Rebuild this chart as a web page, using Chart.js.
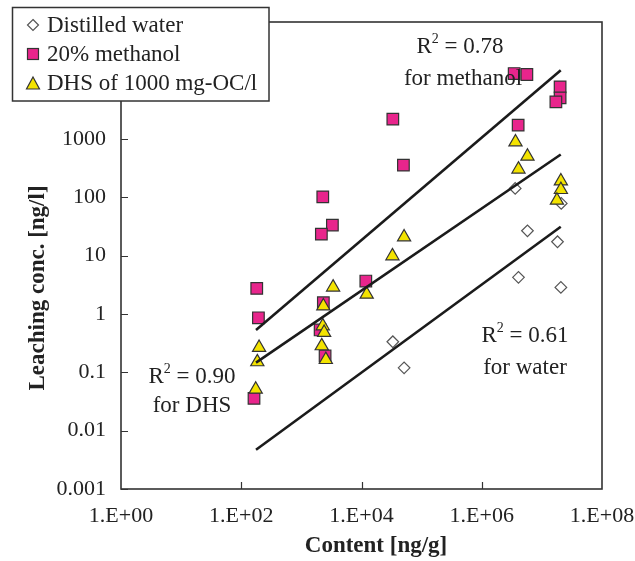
<!DOCTYPE html>
<html>
<head>
<meta charset="utf-8">
<script src="https://cdn.jsdelivr.net/npm/chart.js@4/dist/chart.umd.min.js"></script>
<style>
  html, body { margin: 0; padding: 0; background: #fff; }
  #wrap { width: 635px; height: 561px; }
</style>
</head>
<body>
<div id="wrap"><canvas id="leachChart" width="635" height="561"></canvas></div>
<script>
// ===== Data =====
const waterContent = [33200, 51100, 3.6e6, 2.1e7, 5.76e6, 1.82e7, 4.08e6, 2.07e7];
const waterConc    = [0.333, 0.119, 141, 78, 26.5, 17.2, 4.22, 2.84];

const methanolContent = [163, 181, 193, 2270, 3280, 2150, 2320, 2050, 2480, 11800, 33200, 49800, 3.46e6, 5.63e6, 4.03e6, 2.01e7, 2.01e7, 1.71e7];
const methanolConc    = [0.0357, 2.73, 0.857, 101, 33.2, 23.2, 1.55, 0.53, 0.19, 3.65, 2170, 353, 13100, 12600, 1710, 7740, 5010, 4280];

const dhsContent = [174, 185, 198, 3370, 2320, 2270, 2390, 2180, 2550, 12200, 32700, 51100, 3.64e6, 5.76e6, 4.08e6, 2.07e7, 2.07e7, 1.78e7];
const dhsConc    = [0.051, 0.150, 0.264, 2.86, 1.36, 0.62, 0.477, 0.282, 0.164, 2.16, 9.8, 20.7, 878, 499, 300, 188, 134, 88];

// regression lines (end points)
const fitContent  = [176, 2.06e7];
const methanolFit = [0.53, 14950];
const dhsFit      = [0.146, 538];
const waterFit    = [0.0047, 31];

// axes
const xTickValues = [1, 1e2, 1e4, 1e6, 1e8];
const xTickLabels = ['1.E+00', '1.E+02', '1.E+04', '1.E+06', '1.E+08'];
const yTickValues = [0.001, 0.01, 0.1, 1, 10, 100, 1000];
const yTickLabels = ['0.001', '0.01', '0.1', '1', '10', '100', '1000'];

const seriesNames = ['Distilled water', '20% methanol', 'DHS of 1000 mg-OC/l'];

// ===== Style =====
const SERIF = '"Liberation Serif", "Times New Roman", serif';
const INK = '#222';
const PINK = '#E8258C';
const YELLOW = '#F3E300';
const EDGE = '#333';

const pairs = (xs, ys) => xs.map((x, i) => ({ x, y: ys[i] }));

function fitLine(ys) {
  return {
    data: pairs(fitContent, ys),
    showLine: true,
    borderColor: '#1b1b1b',
    borderWidth: 2.6,
    pointRadius: 0,
    fill: false,
    order: 0
  };
}

// ===== Drawing helpers =====
function drawDiamond(ctx, x, y, r) {
  ctx.beginPath();
  ctx.moveTo(x, y - r); ctx.lineTo(x + r, y); ctx.lineTo(x, y + r); ctx.lineTo(x - r, y);
  ctx.closePath();
  ctx.fillStyle = '#fff'; ctx.fill();
  ctx.strokeStyle = '#555'; ctx.lineWidth = 1.2; ctx.stroke();
}
function drawSquare(ctx, x, y, s) {
  ctx.fillStyle = PINK; ctx.fillRect(x - s / 2, y - s / 2, s, s);
  ctx.strokeStyle = EDGE; ctx.lineWidth = 1.2; ctx.strokeRect(x - s / 2, y - s / 2, s, s);
}
function drawTriangle(ctx, x, y, w, h) {
  ctx.beginPath();
  ctx.moveTo(x, y - h / 2); ctx.lineTo(x + w / 2, y + h / 2); ctx.lineTo(x - w / 2, y + h / 2);
  ctx.closePath();
  ctx.fillStyle = YELLOW; ctx.fill();
  ctx.strokeStyle = EDGE; ctx.lineWidth = 1.2; ctx.stroke();
}

// "R² = 0.78" centred on cx
function drawR2(ctx, value, cx, cy) {
  const big = '23px ' + SERIF, small = '14px ' + SERIF;
  const rest = ' = ' + value;
  ctx.font = big; const wR = ctx.measureText('R').width; const wRest = ctx.measureText(rest).width;
  ctx.font = small; const w2 = ctx.measureText('2').width;
  let x = cx - (wR + w2 + wRest) / 2;
  ctx.textAlign = 'left'; ctx.textBaseline = 'middle'; ctx.fillStyle = INK;
  ctx.font = big; ctx.fillText('R', x, cy); x += wR;
  ctx.font = small; ctx.fillText('2', x, cy - 8); x += w2;
  ctx.font = big; ctx.fillText(rest, x, cy);
}
function drawCaption(ctx, text, cx, cy) {
  ctx.font = '23px ' + SERIF;
  ctx.textAlign = 'center'; ctx.textBaseline = 'middle'; ctx.fillStyle = INK;
  ctx.fillText(text, cx, cy);
}

// ===== Frame, inward ticks, notes, titles and legend =====
const decorPlugin = {
  id: 'decor',
  afterDraw(chart) {
    const { ctx, chartArea: a, scales } = chart;
    ctx.save();

    // plot frame
    ctx.strokeStyle = EDGE; ctx.lineWidth = 1.6;
    ctx.strokeRect(a.left, a.top, a.right - a.left, a.bottom - a.top);

    // inward tick marks
    ctx.beginPath();
    yTickValues.forEach(v => {
      const py = Math.round(scales.y.getPixelForValue(v)) + 0.5;
      ctx.moveTo(a.left, py); ctx.lineTo(a.left + 7, py);
    });
    xTickValues.slice(1, -1).forEach(v => {
      const px = Math.round(scales.x.getPixelForValue(v)) + 0.5;
      ctx.moveTo(px, a.bottom); ctx.lineTo(px, a.bottom - 7);
    });
    ctx.lineWidth = 1.2; ctx.stroke();

    // R² notes
    drawR2(ctx, '0.78', 460, 47);
    drawCaption(ctx, 'for methanol', 463, 79);
    drawR2(ctx, '0.90', 192, 377);
    drawCaption(ctx, 'for DHS', 192, 406);
    drawR2(ctx, '0.61', 525, 336);
    drawCaption(ctx, 'for water', 525, 368);

    // axis titles
    ctx.fillStyle = INK;
    ctx.font = 'bold 23px ' + SERIF;
    ctx.textAlign = 'center'; ctx.textBaseline = 'middle';
    ctx.fillText('Content [ng/g]', 376, 546);
    ctx.save();
    ctx.translate(38, 288); ctx.rotate(-Math.PI / 2);
    ctx.fillText('Leaching conc. [ng/l]', 0, 0);
    ctx.restore();

    // legend box (sits over the frame corner)
    ctx.fillStyle = '#fff';
    ctx.fillRect(12.5, 7.5, 256.5, 93.5);
    ctx.strokeStyle = EDGE; ctx.lineWidth = 1.5;
    ctx.strokeRect(12.5, 7.5, 256.5, 93.5);
    const rows = [25, 54, 83];
    drawDiamond(ctx, 33, rows[0], 5.5);
    drawSquare(ctx, 33, rows[1], 11);
    drawTriangle(ctx, 33, rows[2], 13, 12);
    ctx.font = '23px ' + SERIF;
    ctx.fillStyle = INK; ctx.textAlign = 'left'; ctx.textBaseline = 'middle';
    seriesNames.forEach((name, i) => ctx.fillText(name, 47, rows[i] + 1));

    ctx.restore();
  }
};

const ctx = document.getElementById('leachChart').getContext('2d');
new Chart(ctx, {
  type: 'scatter',
  data: {
    datasets: [
      fitLine(methanolFit),
      fitLine(dhsFit),
      fitLine(waterFit),
      {
        label: seriesNames[2],
        data: pairs(dhsContent, dhsConc),
        pointStyle: 'triangle', pointRadius: 7.6,
        backgroundColor: YELLOW, borderColor: EDGE, borderWidth: 1.2,
        order: 1
      },
      {
        label: seriesNames[1],
        data: pairs(methanolContent, methanolConc),
        pointStyle: 'rect', pointRadius: 8.2,
        backgroundColor: PINK, borderColor: EDGE, borderWidth: 1.2,
        order: 2
      },
      {
        label: seriesNames[0],
        data: pairs(waterContent, waterConc),
        pointStyle: 'rectRot', pointRadius: 5.8,
        backgroundColor: '#fff', borderColor: '#555', borderWidth: 1.2,
        order: 3
      }
    ]
  },
  options: {
    responsive: false,
    animation: false,
    events: [],
    layout: { padding: { top: 22, right: 0, left: 0, bottom: 0 } },
    plugins: { legend: { display: false }, tooltip: { enabled: false } },
    scales: {
      x: {
        type: 'logarithmic', min: 1, max: 1e8,
        grid: { display: false, drawTicks: false },
        border: { display: false },
        afterBuildTicks: s => { s.ticks = xTickValues.map(v => ({ value: v })); },
        afterFit: s => { s.height = 72; s.paddingRight = 33; s.paddingLeft = 0; },
        ticks: {
          padding: 14, color: INK, maxRotation: 0, autoSkip: false,
          font: { family: SERIF, size: 22 },
          callback: v => xTickLabels[xTickValues.indexOf(v)]
        }
      },
      y: {
        type: 'logarithmic', min: 0.001, max: 1e5,
        grid: { display: false, drawTicks: false },
        border: { display: false },
        afterBuildTicks: s => { s.ticks = yTickValues.map(v => ({ value: v })); },
        afterFit: s => { s.width = 121; s.paddingTop = 0; s.paddingBottom = 0; },
        ticks: {
          padding: 15, color: INK, autoSkip: false,
          font: { family: SERIF, size: 22 },
          callback: v => yTickLabels[yTickValues.indexOf(v)]
        }
      }
    }
  },
  plugins: [decorPlugin]
});
</script>
</body>
</html>
